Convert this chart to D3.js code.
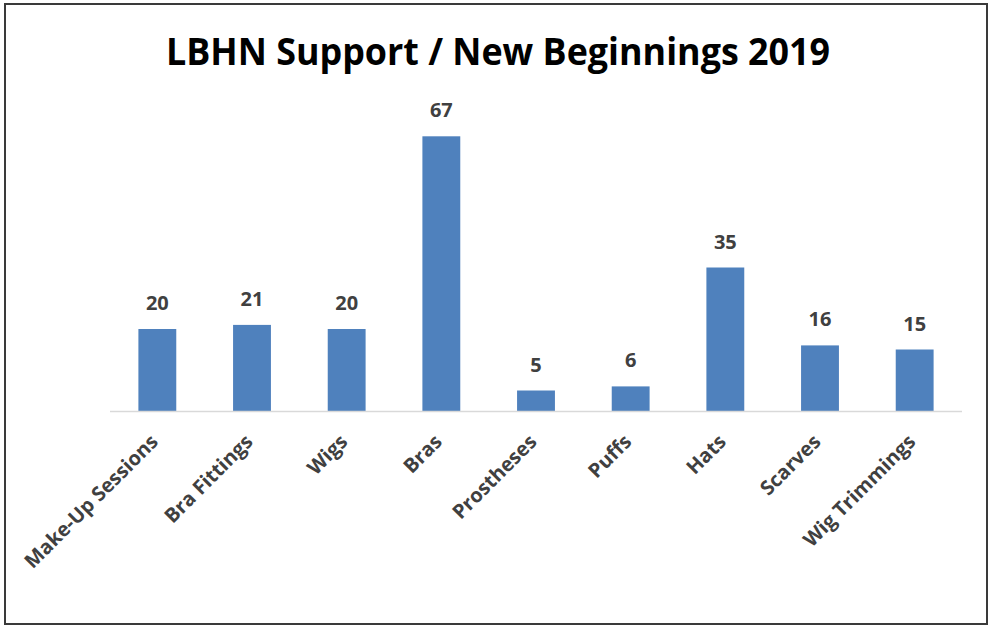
<!DOCTYPE html>
<html lang="en">
<head>
<meta charset="utf-8">
<title>LBHN Support / New Beginnings 2019</title>
<script src="https://cdn.jsdelivr.net/npm/d3@7"></script>
<style>
  html, body { margin: 0; padding: 0; background: #fff; }
  svg { display: block; font-family: "Open Sans", "Liberation Sans", sans-serif; }
</style>
</head>
<body>
<script>
// chart data
const categories = ["Make-Up Sessions", "Bra Fittings", "Wigs", "Bras", "Prostheses", "Puffs", "Hats", "Scarves", "Wig Trimmings"];
const counts = [20, 21, 20, 67, 5, 6, 35, 16, 15];
const title = "LBHN Support / New Beginnings 2019";

const w = 992, h = 626;
const svg = d3.select("body").append("svg")
  .attr("width", w)
  .attr("height", h);

// outer frame
svg.append("rect")
  .attr("x", 5).attr("y", 4)
  .attr("width", 982).attr("height", 620)
  .attr("fill", "#fff")
  .attr("stroke", "#3a3a3a")
  .attr("stroke-width", 2);

const x = d3.scaleBand()
  .domain(categories)
  .range([110, 962])
  .paddingInner(0.6)
  .paddingOuter(0.3);

const y = d3.scaleLinear()
  .domain([0, 80])
  .range([411, 83]);

svg.append("text")
  .attr("x", 498)
  .attr("y", 65)
  .attr("text-anchor", "middle")
  .attr("font-size", 38)
  .attr("font-weight", "bold")
  .attr("fill", "#000")
  .attr("textLength", 664)
  .attr("lengthAdjust", "spacingAndGlyphs")
  .text(title);

const data = categories.map((c, i) => ({ c, v: counts[i] }));

svg.append("g")
  .selectAll("rect")
  .data(data)
  .join("rect")
  .attr("x", d => x(d.c))
  .attr("y", d => y(d.v))
  .attr("width", x.bandwidth())
  .attr("height", d => y(0) - y(d.v))
  .attr("fill", "#4f81bd");

// baseline
svg.append("line")
  .attr("x1", 110).attr("x2", 962)
  .attr("y1", y(0) + 0.5).attr("y2", y(0) + 0.5)
  .attr("stroke", "#d9d9d9")
  .attr("stroke-width", 1.5);

// value labels
svg.append("g")
  .selectAll("text")
  .data(data)
  .join("text")
  .attr("x", d => x(d.c) + x.bandwidth() / 2)
  .attr("y", d => y(d.v) - 19)
  .attr("text-anchor", "middle")
  .attr("font-size", 20)
  .attr("font-weight", "bold")
  .attr("fill", "#404040")
  .text(d => d.v);

// category labels, rotated
svg.append("g")
  .selectAll("text")
  .data(categories)
  .join("text")
  .attr("transform", d => `translate(${x(d) + x.bandwidth() / 2 + 2},${y(0) + 32}) rotate(-45)`)
  .attr("text-anchor", "end")
  .attr("font-size", 20)
  .attr("font-weight", "bold")
  .attr("fill", "#404040")
  .text(d => d);
</script>
</body>
</html>
